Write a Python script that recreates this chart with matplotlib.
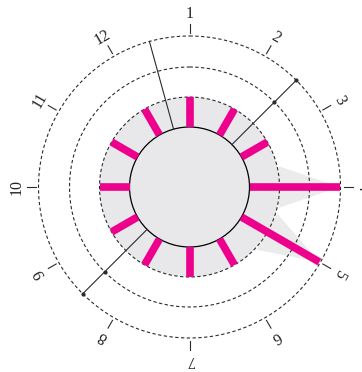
import numpy as np
import matplotlib
matplotlib.use("Agg")
import matplotlib.pyplot as plt
from matplotlib.patches import Circle, Polygon

# ---- data ----
hours = [1, 2, 3, 4, 5, 6, 7, 8, 9, 10, 11, 12]
hour_angles = [0, 30, 60, 90, 120, 150, 180, 210, 240, 270, 300, 330]  # clockwise from top, deg
bar_inner = 60
bar_outer = [90, 90, 90, 150, 150, 90, 90, 90, 90, 90, 90, 90]
ring_radii = [90, 120, 151]
hub_radius = 60
spoke_angles = [-15.4, 45, 225]
spoke_outer = 151
cone_hours = [4, 5]
cone_half_angle = 13
cone_base_radius = 92
dot_spokes = [45, 225]
dot_radii = [120, 151]
tick_r = (154, 163)
label_r = 173

PINK = "#ec008c"
GRAY = "#e8e8ea"
CONE = "#ebebec"
DARK = "#2b2b2b"


def pol(theta_deg, r):
    t = np.deg2rad(np.asarray(theta_deg, dtype=float))
    r = np.asarray(r, dtype=float)
    return r * np.sin(t), r * np.cos(t)


fig = plt.figure(figsize=(3.62, 3.72), dpi=100)
ax = fig.add_axes([0, 0, 1, 1])
ax.set_xlim(-189.5, 172.5)
ax.set_ylim(-185, 187)
ax.set_aspect("equal")
ax.axis("off")

# gray disk
ax.add_patch(Circle((0, 0), ring_radii[0], facecolor=GRAY, edgecolor="none", zorder=1))

# cones
for h in cone_hours:
    a = hour_angles[hours.index(h)]
    tip = bar_outer[hours.index(h)]
    p1 = pol(a - cone_half_angle, cone_base_radius)
    p2 = pol(a + cone_half_angle, cone_base_radius)
    p3 = pol(a, tip)
    ax.add_patch(Polygon([p1, p3, p2], closed=True, facecolor=CONE, edgecolor="none", zorder=1))

# dashed rings
th = np.linspace(0, 360, 721)
for r in ring_radii:
    x, y = pol(th, np.full_like(th, r))
    ax.plot(x, y, color=DARK, lw=0.8, linestyle=(0, (3, 2.2)), zorder=2)

# hub
ax.add_patch(Circle((0, 0), hub_radius, facecolor=GRAY, edgecolor="black", lw=0.9, zorder=3))

# spokes
for a in spoke_angles:
    x, y = pol([a, a], [hub_radius, spoke_outer])
    ax.plot(x, y, color=DARK, lw=0.8, zorder=4)
for a in dot_spokes:
    x, y = pol([a] * len(dot_radii), dot_radii)
    ax.plot(x, y, "o", color=DARK, ms=2.0, zorder=4)

# pink bars
for a, ro in zip(hour_angles, bar_outer):
    x, y = pol([a, a], [bar_inner, ro])
    ax.plot(x, y, color=PINK, lw=5.5, solid_capstyle="butt", zorder=5)

# ticks and labels
for h, a in zip(hours, hour_angles):
    x, y = pol([a, a], list(tick_r))
    ax.plot(x, y, color=DARK, lw=0.8, zorder=4)
    lx, ly = pol(a, label_r)
    ax.text(float(lx), float(ly), str(h), rotation=-a, rotation_mode="anchor",
            ha="center", va="center", fontsize=11.5, family="Liberation Serif",
            color="#222222", clip_on=False)

fig.savefig("out.png", dpi=100)
